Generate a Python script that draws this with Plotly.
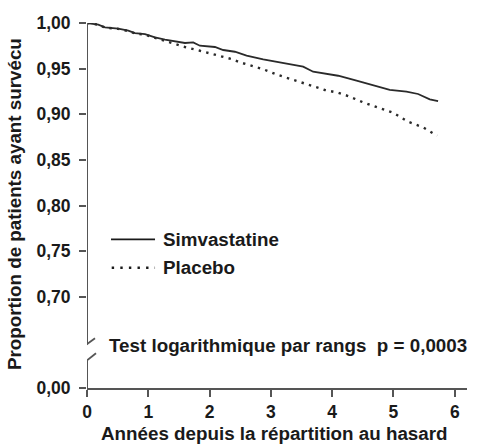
import plotly.graph_objects as go

# ---- data ----
simva_x = [0, 0.184, 0.293, 0.510, 0.673, 0.783, 0.946, 1.109, 1.272, 1.435, 1.598, 1.733, 1.842,
           2.087, 2.222, 2.413, 2.604, 2.875, 3.201, 3.527, 3.690, 3.853, 4.098, 4.398, 4.724,
           4.940, 5.213, 5.402, 5.593, 5.728]
simva_y = [1.0, 0.9981, 0.9953, 0.9938, 0.9916, 0.9890, 0.9879, 0.9843, 0.9817, 0.9799, 0.9781, 0.9788, 0.9751,
           0.9737, 0.9704, 0.9685, 0.9642, 0.9602, 0.9565, 0.9521, 0.9466, 0.9449, 0.9422, 0.9368, 0.9310,
           0.9266, 0.9247, 0.9222, 0.9164, 0.9145]

placebo_x = [0, 0.184, 0.293, 0.510, 0.673, 0.783, 0.946, 1.109, 1.272, 1.463, 1.598, 1.842, 1.978,
             2.087, 2.359, 2.495, 2.739, 2.875, 3.119, 3.364, 3.636, 3.881, 4.098, 4.261, 4.505,
             4.750, 4.994, 5.239, 5.483, 5.712]
placebo_y = [1.0, 0.9981, 0.9950, 0.9935, 0.9912, 0.9885, 0.9872, 0.9838, 0.9810, 0.9762, 0.9737, 0.9696, 0.9671,
             0.9657, 0.9605, 0.9569, 0.9521, 0.9493, 0.9430, 0.9375, 0.9321, 0.9266, 0.9236, 0.9200, 0.9131,
             0.9076, 0.9017, 0.8918, 0.8857, 0.8765]

x_ticks = [0, 1, 2, 3, 4, 5, 6]
y_tickvals = [0.60, 0.70, 0.75, 0.80, 0.85, 0.90, 0.95, 1.00]   # 0.60 stands for the broken-axis 0,00
y_ticktext = ["0,00", "0,70", "0,75", "0,80", "0,85", "0,90", "0,95", "1,00"]

series_names = ["Simvastatine", "Placebo"]
test_text = "Test logarithmique par rangs  p = 0,0003"
x_title = "Années depuis la répartition au hasard"
y_title = "Proportion de patients ayant survécu"

FONT = "Liberation Sans, Arial, Helvetica, sans-serif"
AX = "#555555"
INK = "#1a1a1a"
TXT = 18.8

fig = go.Figure()
fig.add_trace(go.Scatter(x=simva_x, y=simva_y, mode="lines", name=series_names[0],
                         line=dict(color="#2a2a2a", width=1.8), cliponaxis=False, showlegend=False))
fig.add_trace(go.Scatter(x=placebo_x, y=placebo_y, mode="lines", name=series_names[1],
                         line=dict(color="#2a2a2a", width=2.4, dash="2.4px,5.3px"),
                         cliponaxis=False, showlegend=False))

shapes = [
    # broken y-axis line: upper and lower segments
    dict(type="line", xref="x", yref="y", x0=0, x1=0, y0=0.6478, y1=1.0, line=dict(color=AX, width=2)),
    dict(type="line", xref="x", yref="y", x0=0, x1=0, y0=0.60, y1=0.6302, line=dict(color=AX, width=2)),
    # break marks
    dict(type="line", xref="x", yref="y", xsizemode="pixel", xanchor=0, x0=-10, x1=8,
         y0=0.6398, y1=0.6545, line=dict(color=AX, width=1.8)),
    dict(type="line", xref="x", yref="y", xsizemode="pixel", xanchor=0, x0=-8, x1=9,
         y0=0.6234, y1=0.6380, line=dict(color=AX, width=1.8)),
    # legend glyphs
    dict(type="line", xref="paper", yref="paper", x0=0.0632, x1=0.179, y0=0.4074, y1=0.4074,
         line=dict(color=INK, width=1.8)),
    dict(type="line", xref="paper", yref="paper", x0=0.0650, x1=0.179, y0=0.3296, y1=0.3296,
         line=dict(color=INK, width=2.4, dash="2.4px,6.2px")),
]

annotations = [
    dict(text=series_names[0], xref="paper", yref="paper", x=(161 - 87) / 380, y=0.4074,
         xanchor="left", yanchor="middle", showarrow=False, font=dict(size=TXT, color=INK)),
    dict(text=series_names[1], xref="paper", yref="paper", x=(161 - 87) / 380, y=0.3296,
         xanchor="left", yanchor="middle", showarrow=False, font=dict(size=TXT, color=INK)),
    dict(text=test_text, xref="paper", yref="paper", x=(107 - 87) / 380, y=(388 - 345) / 365,
         xanchor="left", yanchor="middle", showarrow=False, font=dict(size=TXT, color=INK)),
    dict(text=x_title, xref="paper", yref="paper", x=0.493, y=(388 - 433) / 365,
         xanchor="center", yanchor="middle", showarrow=False, font=dict(size=TXT, color=INK)),
    dict(text=y_title, xref="paper", yref="paper", x=(14 - 87) / 380, y=0.504, textangle=-90,
         xanchor="center", yanchor="middle", showarrow=False, font=dict(size=TXT, color=INK)),
]

fig.update_layout(
    width=478, height=445,
    margin=dict(l=87, r=11, t=23, b=57),
    paper_bgcolor="white", plot_bgcolor="white",
    font=dict(family=FONT, color=INK, weight="bold"),
    shapes=shapes, annotations=annotations,
    xaxis=dict(range=[0, 6.2], tickvals=x_ticks, ticktext=[str(v) for v in x_ticks],
               showline=True, linecolor=AX, linewidth=2, ticks="outside", ticklen=7,
               tickwidth=1.8, tickcolor=AX, showgrid=False, zeroline=False,
               tickfont=dict(size=17.5, color=INK, weight="bold"), automargin=False),
    yaxis=dict(range=[0.60, 1.0], tickvals=y_tickvals, ticktext=y_ticktext,
               showline=False, ticks="outside", ticklen=7, tickwidth=1.8, tickcolor=AX,
               showgrid=False, zeroline=False, ticklabelstandoff=5,
               tickfont=dict(size=17.5, color=INK, weight="bold"), automargin=False),
)

# remove the default 8px page margin so the figure fills the window exactly
fig.write_html("out.html", config={"displayModeBar": False},
               post_script="document.body.style.margin='0';")
